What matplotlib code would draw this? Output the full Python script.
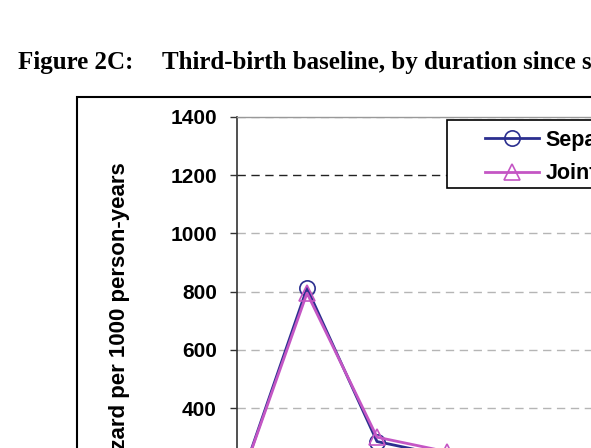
import matplotlib.pyplot as plt
from matplotlib.patches import Rectangle

# durations since second birth (years) and baseline hazards per 1000 person-years
durations = [0, 1, 2, 3, 4]
separate = [115, 812, 285, 235, 200]
joint = [115, 795, 300, 250, 205]
series_names = ["Separate", "Joint"]
y_ticks = [0, 200, 400, 600, 800, 1000, 1200, 1400]

W, H = 591, 448

def fx(px):
    return px / W

def fy(py):
    return 1 - py / H

plt.rcParams['font.family'] = ['Liberation Sans', 'DejaVu Sans']

fig = plt.figure(figsize=(W / 100, H / 100), dpi=100)

# title (cut off at the right, as in the source)
fig.text(fx(18), fy(69), "Figure 2C:", family='Liberation Serif', fontweight='bold',
         fontsize=18, va='baseline', ha='left')
fig.text(fx(162), fy(69), "Third-birth baseline, by duration since second birth",
         family='Liberation Serif', fontweight='bold', fontsize=18, va='baseline', ha='left')

# outer chart frame
fig.add_artist(Rectangle((fx(77), -0.2), 1.0, fy(97) + 0.2, transform=fig.transFigure,
                         fill=False, ec='black', lw=1.5, zorder=1))

# plot area: top at 117px, zero at ~524px, 70px per category
ax = fig.add_axes([fx(237), fy(524.5), 560 / W, (524.5 - 117) / H])
ax.set_xlim(0, 8)
ax.set_ylim(0, 1400)
ax.set_yticks(y_ticks)
ax.set_xticks([])
ax.tick_params(axis='y', length=5, width=1, pad=9.4, labelsize=15, color='#333333')
for lab in ax.get_yticklabels():
    lab.set_fontweight('bold')

ax.spines['left'].set_color('#333333')
ax.spines['left'].set_linewidth(1.2)
ax.spines['top'].set_color('#999999')
ax.spines['top'].set_linewidth(1)
ax.spines['right'].set_visible(False)
ax.spines['bottom'].set_visible(False)

ax.yaxis.grid(True, linestyle=(0, (6, 4)), color='#b5b5b5', linewidth=1)
for val, gl in zip(y_ticks, ax.get_ygridlines()):
    if val == 1200:
        gl.set_color('#222222')
ax.set_axisbelow(True)

l1, = ax.plot(durations, separate, color='#2b2f8f', lw=2.0, marker='o', markersize=11,
              markerfacecolor='none', markeredgecolor='#2b2f8f', markeredgewidth=1.2,
              clip_on=False, label=series_names[0])
l2, = ax.plot(durations, joint, color='#c456c4', lw=2.0, marker='^', markersize=11,
              markerfacecolor='none', markeredgecolor='#c456c4', markeredgewidth=1.2,
              clip_on=False, label=series_names[1])

fig.text(fx(120), fy(162), "Hazard per 1000 person-years", rotation=90, fontsize=16,
         fontweight='bold', ha='center', va='top')

# legend box
fig.add_artist(Rectangle((fx(447), fy(188)), 1.0, (188 - 120) / H, transform=fig.transFigure,
                         facecolor='white', ec='black', lw=1.2, zorder=4))
fig.legend(handles=[l1, l2], loc='upper left', bbox_to_anchor=(fx(485), fy(130)),
           frameon=False, borderpad=0, borderaxespad=0, handlelength=2.5,
           handletextpad=0.3, labelspacing=0.58, numpoints=1,
           prop={'weight': 'bold', 'size': 15.5})

fig.savefig("out.png", dpi=100)
